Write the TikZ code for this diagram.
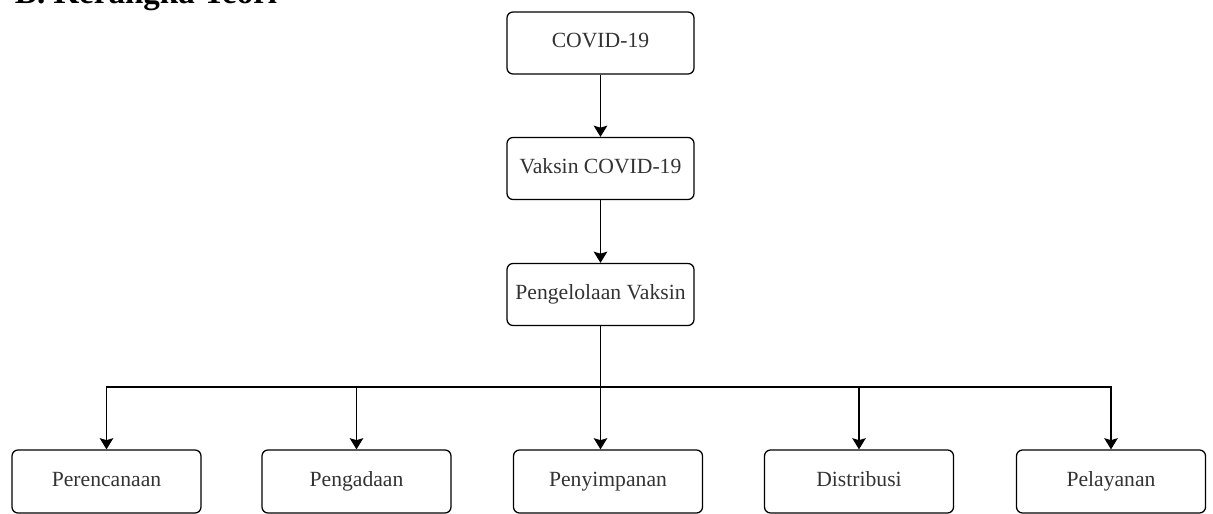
\documentclass[tikz,border=0pt]{standalone}
\usepackage{fontspec}
\setmainfont{Liberation Serif}
\usetikzlibrary{arrows.meta}

\begin{document}
\begin{tikzpicture}[
  kotak/.style={draw=black, line width=0.9pt, rounded corners=0.15cm, inner sep=0pt,
    minimum width=4.675cm, minimum height=1.55cm, text=black!80,
    text height=0.66em, text depth=0pt, font=\fontsize{15.4}{18}\selectfont},
  kotakbawah/.style={kotak, minimum width=4.725cm, minimum height=1.575cm},
  panah/.style={line width=0.9pt, -{Stealth[length=0.28cm, width=0.34cm, inset=0.05cm]}}
]
\path[use as bounding box, clip] (0,0) rectangle (30.325,-12.85);
\node[anchor=base west, font=\bfseries\fontsize{23.5}{28}\selectfont] (judul) at (0.25,-0.1) {B.\ Kerangka Teori};
\node[kotak] (covid) at (15.0125,-1.075) {COVID-19};
\node[kotak] (vaksin) at (15.0125,-4.2125) {Vaksin COVID-19};
\node[kotak] (kelola) at (15.0125,-7.3625) {Pengelolaan Vaksin};
\node[kotakbawah] (rencana) at (2.6625,-12.0375) {Perencanaan};
\node[kotakbawah] (adaan) at (8.9125,-12.0375) {Pengadaan};
\node[kotakbawah] (simpan) at (15.2,-12.0375) {Penyimpanan};
\node[kotakbawah] (distribusi) at (21.475,-12.0375) {Distribusi};
\node[kotakbawah] (layan) at (27.775,-12.0375) {Pelayanan};
\coordinate (cabang) at (15,-9.675);
\draw[panah] (covid) -- (vaksin);
\draw[panah] (vaksin) -- (kelola);
\draw[panah] (kelola.south) -- (kelola.south |- simpan.north);
\foreach \n in {rencana,adaan,distribusi,layan}
  \draw[panah] (kelola.south) -- (kelola.south |- cabang) -| (\n.north);
\end{tikzpicture}
\end{document}
